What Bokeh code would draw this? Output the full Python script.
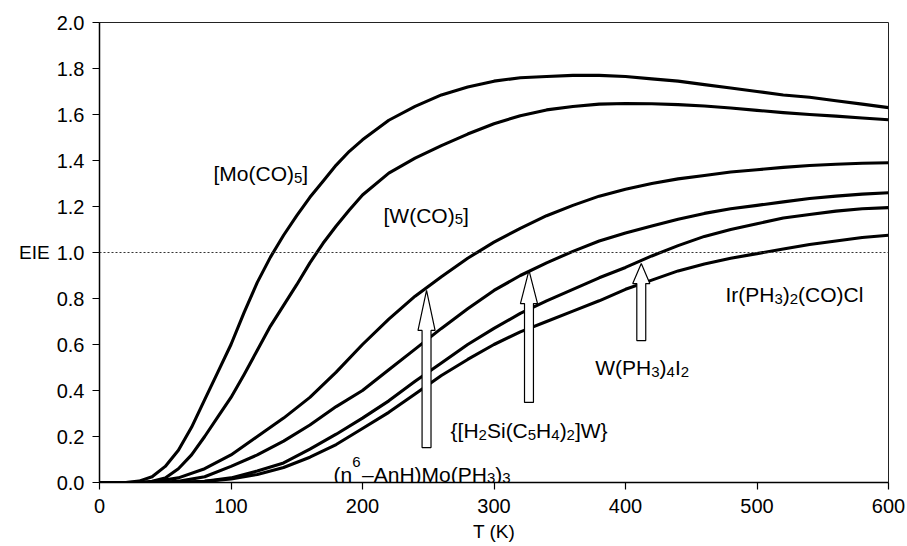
from bokeh.plotting import figure
from bokeh.models import Range1d, Span, FixedTicker
from bokeh.embed import file_html
from bokeh.resources import INLINE
from bokeh.core.properties import value

# ---------------- data ----------------
T_fast = [0, 20, 30, 40, 50, 60, 70, 80, 90, 100, 110, 120, 130, 140, 150, 160, 170,
          180, 190, 200, 220, 240, 260, 280, 300, 320, 340, 360, 380, 400, 420, 440,
          460, 480, 500, 520, 540, 560, 580, 600]
mo_co5 = [0.0, 0.0, 0.006, 0.025, 0.07, 0.14, 0.24, 0.36, 0.48, 0.60, 0.74, 0.87,
          0.98, 1.075, 1.16, 1.24, 1.31, 1.38, 1.44, 1.49, 1.575, 1.635, 1.685, 1.72,
          1.745, 1.76, 1.765, 1.77, 1.77, 1.765, 1.755, 1.745, 1.73, 1.715, 1.70,
          1.685, 1.675, 1.66, 1.645, 1.63]
w_co5 = [0.0, 0.0, 0.0, 0.005, 0.02, 0.06, 0.12, 0.20, 0.285, 0.37, 0.47, 0.575,
         0.68, 0.77, 0.86, 0.955, 1.04, 1.115, 1.185, 1.25, 1.345, 1.41, 1.465,
         1.515, 1.56, 1.595, 1.62, 1.635, 1.645, 1.648, 1.647, 1.643, 1.637, 1.628,
         1.618, 1.608, 1.60, 1.593, 1.585, 1.577]

T = [0, 20, 40, 60, 80, 100, 120, 140, 160, 180, 200, 220, 240, 260, 280, 300,
     320, 340, 360, 380, 400, 420, 440, 460, 480, 500, 520, 540, 560, 580, 600]
eta6_anh = [0.0, 0.0, 0.002, 0.02, 0.06, 0.12, 0.20, 0.28, 0.37, 0.48, 0.60, 0.71,
            0.81, 0.895, 0.975, 1.045, 1.105, 1.16, 1.205, 1.245, 1.275, 1.30, 1.32,
            1.335, 1.35, 1.36, 1.37, 1.378, 1.384, 1.388, 1.39]
h2si = [0.0, 0.0, 0.0, 0.005, 0.025, 0.07, 0.12, 0.18, 0.25, 0.33, 0.40, 0.49,
        0.58, 0.67, 0.755, 0.835, 0.90, 0.955, 1.005, 1.05, 1.085, 1.115, 1.145,
        1.17, 1.19, 1.205, 1.22, 1.235, 1.245, 1.254, 1.26]
w_ph3 = [0.0, 0.0, 0.0, 0.0, 0.005, 0.02, 0.05, 0.085, 0.145, 0.21, 0.28, 0.355,
         0.44, 0.52, 0.60, 0.67, 0.735, 0.79, 0.84, 0.89, 0.935, 0.985, 1.03, 1.07,
         1.10, 1.125, 1.15, 1.165, 1.18, 1.19, 1.195]
ir_ph3 = [0.0, 0.0, 0.0, 0.0, 0.005, 0.015, 0.035, 0.065, 0.11, 0.165, 0.235, 0.305,
          0.385, 0.465, 0.535, 0.60, 0.655, 0.70, 0.745, 0.79, 0.84, 0.88, 0.92,
          0.95, 0.975, 0.995, 1.015, 1.035, 1.05, 1.065, 1.075]

series_x = [T_fast, T_fast, T, T, T, T]
series_y = [mo_co5, w_co5, eta6_anh, h2si, w_ph3, ir_ph3]

# labels: segments with style n = normal, b = subscript, p = superscript
labels = [
    [("[Mo(CO)", "n"), ("5", "b"), ("]", "n")],
    [("[W(CO)", "n"), ("5", "b"), ("]", "n")],
    [("(\u03b7", "n"), ("6", "p"), ("\u2013AnH)Mo(PH", "n"), ("3", "b"), (")", "n"), ("3", "b")],
    [("{[H", "n"), ("2", "b"), ("Si(C", "n"), ("5", "b"), ("H", "n"), ("4", "b"),
     (")", "n"), ("2", "b"), ("]W}", "n")],
    [("W(PH", "n"), ("3", "b"), (")", "n"), ("4", "b"), ("I", "n"), ("2", "b")],
    [("Ir(PH", "n"), ("3", "b"), (")", "n"), ("2", "b"), ("(CO)Cl", "n")],
]
label_x = [86.7, 216, 178, 267, 377, 476]
label_y = [1.342, 1.161, 0.036, 0.226, 0.50, 0.817]

# hollow arrows: x position, shaft bottom, head base, tip
arrow_x = [248.7, 326.6, 412.0]
arrow_base = [0.152, 0.348, 0.617]
arrow_neck = [0.661, 0.778, 0.865]
arrow_tip = [0.835, 0.922, 0.952]

x_ticks = [0, 100, 200, 300, 400, 500, 600]
y_ticks = [0.0, 0.2, 0.4, 0.6, 0.8, 1.0, 1.2, 1.4, 1.6, 1.8, 2.0]

FONT = "Liberation Sans"
MAIN_PX, SMALL_PX = 21, 15

# Arial / Liberation Sans advance widths (1/1000 em)
ADV = {"[": 278, "]": 278, "{": 334, "}": 334, "(": 333, ")": 333, "M": 833,
       "o": 556, "C": 722, "O": 778, "W": 944, "H": 722, "S": 667, "i": 222,
       "P": 667, "I": 278, "r": 333, "l": 222, "A": 667, "n": 556, "\u2013": 556,
       "\u03b7": 556}


def seg_width(s, size, kind):
    w = sum(ADV.get(ch, 556) for ch in s) * size / 1000.0
    return w + (1.5 if kind == "p" else 0.0)


p = figure(width=907, height=546, output_backend="svg", toolbar_location=None,
           x_range=Range1d(0, 600), y_range=Range1d(0, 2.0),
           min_border_left=99, min_border_right=19, min_border_top=22,
           min_border_bottom=64)
p.background_fill_color = "white"
p.border_fill_color = "white"
p.outline_line_color = "#222222"
p.outline_line_width = 1
p.grid.visible = False

for ax in (p.xaxis[0], p.yaxis[0]):
    ax.axis_line_color = "black"
    ax.axis_line_width = 1.5
    ax.major_tick_line_color = "black"
    ax.major_tick_line_width = 1.2
    ax.major_tick_out = 7
    ax.major_tick_in = 0
    ax.minor_tick_line_color = None
    ax.major_label_text_font = FONT
    ax.major_label_text_font_size = "20px"
    ax.major_label_text_color = "black"
    ax.axis_label_text_font = FONT
    ax.axis_label_text_font_size = "19px"
    ax.axis_label_text_font_style = "normal"
    ax.axis_label_text_color = "black"

p.xaxis.ticker = FixedTicker(ticks=x_ticks)
p.yaxis.ticker = FixedTicker(ticks=y_ticks)
p.yaxis.major_label_overrides = {v: f"{v:.1f}" for v in y_ticks}
p.xaxis.major_label_standoff = 9
p.yaxis.major_label_standoff = 8
p.xaxis.axis_label = "T (K)"
p.yaxis.axis_label = "EIE"
p.yaxis.axis_label_orientation = "horizontal"
p.xaxis.axis_label_standoff = 5
p.yaxis.axis_label_standoff = 4

p.add_layout(Span(location=1.0, dimension="width", line_color="#333333",
                  line_width=1, line_dash="2 2"))

for xs_, ys_ in zip(series_x, series_y):
    p.line(xs_, ys_, line_color="black", line_width=3.1, line_join="round")

# hollow block arrows
sw, hw = 3.4, 6.5
pxs, pys = [], []
for x, b, n, t in zip(arrow_x, arrow_base, arrow_neck, arrow_tip):
    pxs.append([x - sw, x + sw, x + sw, x + hw, x, x - hw, x - sw])
    pys.append([b, b, n, n, t, n, n])
p.patches(pxs, pys, fill_color="white", line_color="black", line_width=1.2)

# labels with sub/superscripts laid out piece by piece
tx, ty, tt, tox, toy, tsz = [], [], [], [], [], []
for segs, lx, ly in zip(labels, label_x, label_y):
    off = 0.0
    for s, kind in segs:
        size = MAIN_PX if kind == "n" else SMALL_PX
        dy = 0 if kind == "n" else (4 if kind == "b" else -12)
        tx.append(lx); ty.append(ly); tt.append(s)
        tox.append(off); toy.append(dy); tsz.append(f"{size}px")
        off += seg_width(s, size, kind)

p.text(x=tx, y=ty, text=tt, x_offset=tox, y_offset=toy, text_font_size=tsz,
       text_font=value(FONT), text_baseline="alphabetic", text_align="left",
       text_color="black")

open("out.html", "w").write(file_html(p, INLINE))
